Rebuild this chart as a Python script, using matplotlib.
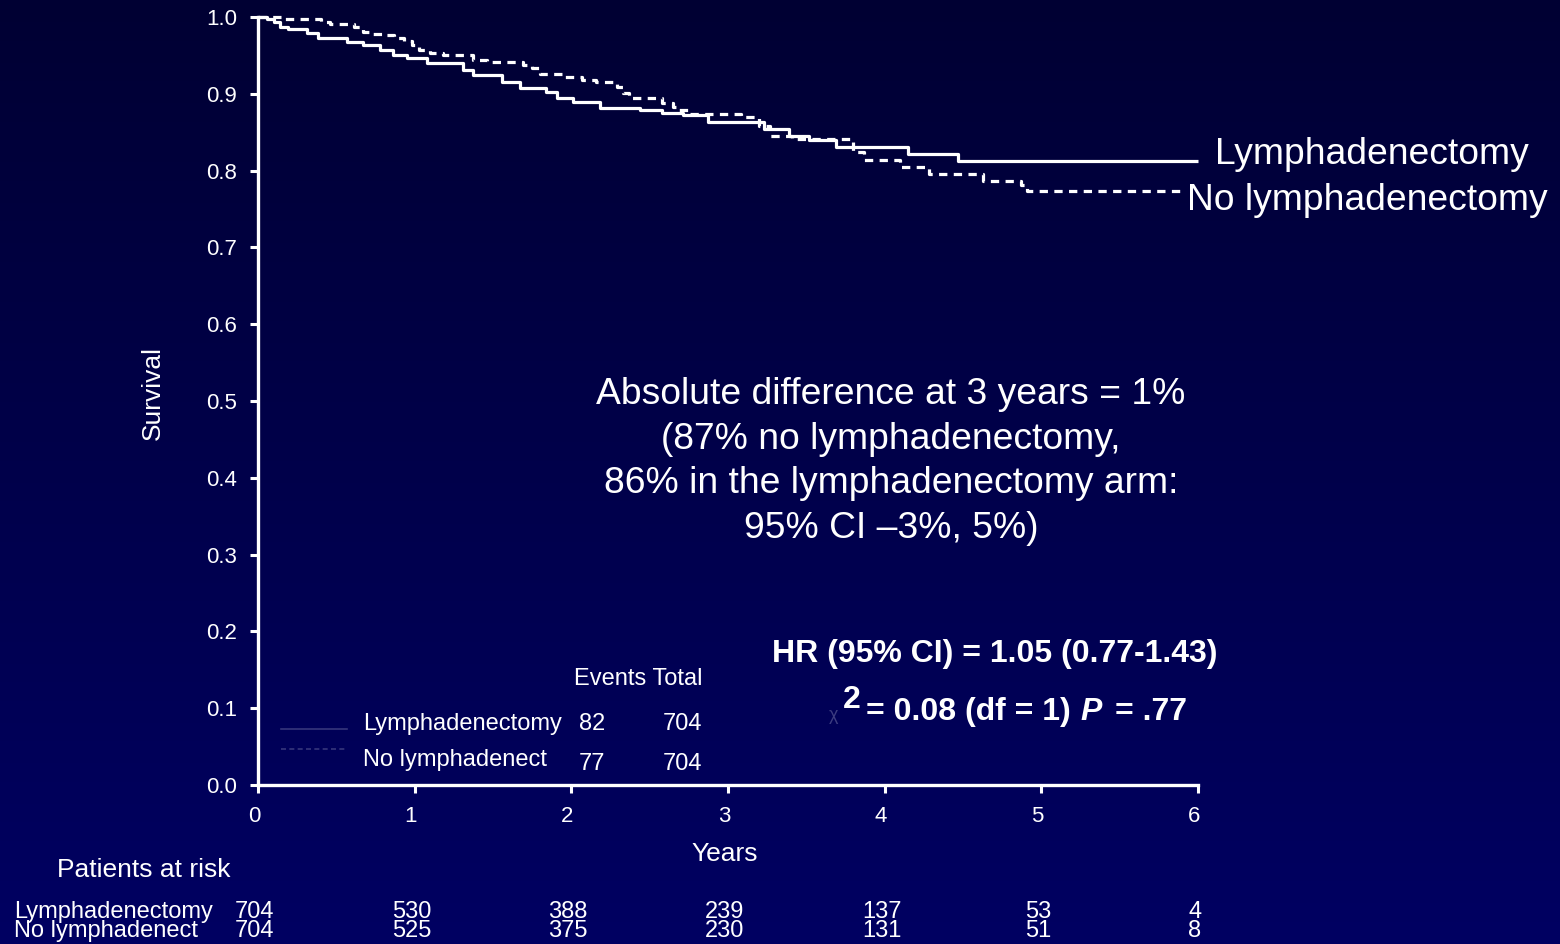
import numpy as np
import matplotlib.pyplot as plt
import matplotlib.transforms as mtransforms
from matplotlib.lines import Line2D

plt.rcParams['font.family'] = ['Liberation Sans', 'DejaVu Sans']

W, H = 1560, 944

## Kaplan-Meier steps (time in years, survival)
lymph_time = [0, 0.06, 0.10, 0.14, 0.19, 0.31, 0.38, 0.57, 0.67, 0.78, 0.86, 0.95,
              1.08, 1.31, 1.37, 1.56, 1.67, 1.84, 1.91, 2.01, 2.18, 2.44, 2.58,
              2.71, 2.87, 3.23, 3.39, 3.52, 3.69, 4.15, 4.47, 6.0]
lymph_surv = [1.0, 0.997, 0.994, 0.987, 0.984, 0.979, 0.973, 0.967, 0.964, 0.957,
              0.950, 0.947, 0.940, 0.931, 0.924, 0.915, 0.907, 0.902, 0.895, 0.889,
              0.882, 0.879, 0.875, 0.872, 0.863, 0.854, 0.845, 0.840, 0.831, 0.822,
              0.813, 0.813]

nolymph_time = [0, 0.16, 0.40, 0.46, 0.61, 0.67, 0.73, 0.80, 0.87, 0.93, 0.98, 1.03,
                1.10, 1.18, 1.37, 1.46, 1.69, 1.75, 1.80, 1.94, 2.07, 2.16, 2.29,
                2.33, 2.37, 2.58, 2.65, 2.69, 2.76, 3.08, 3.20, 3.27, 3.41, 3.80,
                3.87, 4.10, 4.28, 4.63, 4.87, 4.91, 5.90]
nolymph_surv = [1.0, 0.997, 0.994, 0.991, 0.987, 0.980, 0.978, 0.976, 0.973, 0.969,
                0.963, 0.957, 0.953, 0.950, 0.944, 0.941, 0.937, 0.933, 0.926, 0.922,
                0.918, 0.915, 0.909, 0.901, 0.895, 0.888, 0.883, 0.879, 0.874, 0.870,
                0.858, 0.845, 0.841, 0.824, 0.814, 0.805, 0.796, 0.786, 0.781, 0.773,
                0.773]

x_ticks = [0, 1, 2, 3, 4, 5, 6]
y_ticks = [0.0, 0.1, 0.2, 0.3, 0.4, 0.5, 0.6, 0.7, 0.8, 0.9, 1.0]

at_risk_lymph = [704, 530, 388, 239, 137, 53, 4]
at_risk_nolymph = [704, 525, 375, 230, 131, 51, 8]

groups = ['Lymphadenectomy', 'No lymphadenect']
events = [82, 77]
totals = [704, 704]

annotation_lines = ['Absolute difference at 3 years = 1%',
                    '(87% no lymphadenectomy,',
                    '86% in the lymphadenectomy arm:',
                    '95% CI \u20133%, 5%)']


def fx(px):
    return px / W


def fy(py):
    return 1 - py / H


fig = plt.figure(figsize=(W / 100, H / 100), dpi=100)

## gradient background
bg = fig.add_axes([0, 0, 1, 1], zorder=-10)
top = np.array([0x00, 0x00, 0x33]) / 255
bottom = np.array([0x00, 0x00, 0x62]) / 255
grad = np.linspace(0, 1, 256)[:, None, None]
img = top + (bottom - top) * grad
img = np.repeat(img, 2, axis=1)
bg.imshow(img, aspect='auto', extent=[0, 1, 0, 1], origin='upper')
bg.axis('off')

ax = fig.add_axes([fx(258), fy(785), (1198 - 258) / W, (785 - 17) / H])
ax.set_facecolor('none')

ax.step(lymph_time, lymph_surv, where='post', color='white', lw=2.3,
        solid_capstyle='butt', clip_on=False)
ax.step(nolymph_time, nolymph_surv, where='post', color='white', lw=2.3,
        dashes=(2.6, 2.0), clip_on=False)

ax.set_xlim(0, 6)
ax.set_ylim(0, 1.0)
ax.set_xticks(x_ticks)
ax.set_yticks(y_ticks)
ax.set_xticklabels([str(t) for t in x_ticks])
ax.set_yticklabels([f'{t:.1f}' for t in y_ticks])
ax.tick_params(colors='white', labelcolor='white', labelsize=16, direction='out',
               length=6, width=2.2, pad=9)
shift = mtransforms.ScaledTranslation(-4 / 100, 0, fig.dpi_scale_trans)
for lab in ax.get_xticklabels():
    lab.set_transform(lab.get_transform() + shift)
for side in ['top', 'right']:
    ax.spines[side].set_visible(False)
for side in ['left', 'bottom']:
    ax.spines[side].set_color('white')
    ax.spines[side].set_linewidth(2.4)

ax.set_ylabel('Survival', color='white', fontsize=19)
ax.yaxis.set_label_coords(-0.099, 0.51)
ax.set_xlabel('Years', color='white', fontsize=19)
ax.xaxis.set_label_coords(0.497, -0.074)

## curve labels on the right
fig.text(fx(1215), fy(154), 'Lymphadenectomy', color='white', fontsize=26.8,
         ha='left', va='center')
fig.text(fx(1187), fy(201), 'No lymphadenectomy', color='white', fontsize=26.8,
         ha='left', va='center')

## absolute difference annotation
for i, line in enumerate(annotation_lines):
    fig.text(fx(891), fy(394 + 45 * i), line, color='white', fontsize=26.8,
             ha='center', va='center')

## hazard ratio
fig.text(fx(772), fy(654), 'HR (95% CI) = 1.05 (0.77-1.43)', color='white',
         fontsize=23, fontweight='bold', ha='left', va='center')
fig.text(fx(829), fy(716), '\u03c7', color='#3c3c80', fontsize=13,
         ha='left', va='center')
fig.text(fx(843), fy(700), '2', color='white', fontsize=23, fontweight='bold',
         ha='left', va='center')
fig.text(fx(866), fy(712), '= 0.08 (df = 1)', color='white', fontsize=23,
         fontweight='bold', ha='left', va='center')
fig.text(fx(1080), fy(712), 'P', color='white', fontsize=23, fontweight='bold',
         fontstyle='italic', ha='left', va='center')
fig.text(fx(1115), fy(712), '= .77', color='white', fontsize=23,
         fontweight='bold', ha='left', va='center')

## inner legend with events / totals
fig.text(fx(702), fy(679), 'Events Total', color='white', fontsize=17,
         ha='right', va='center')
legend_y = [724, 764]
handle_y = [729, 749]
styles = ['-', (0, (3, 2))]
for i, g in enumerate(groups):
    fig.add_artist(Line2D([fx(281), fx(347)], [fy(handle_y[i])] * 2,
                          color='#35357c', lw=1.2, linestyle=styles[i]))
    fig.text(fx(363), fy(legend_y[i] - 4 * i), g, color='white', fontsize=17,
             ha='left', va='center')
    fig.text(fx(579), fy(legend_y[i]), str(events[i]), color='white', fontsize=17,
             ha='left', va='center')
    fig.text(fx(702), fy(legend_y[i]), str(totals[i]), color='white', fontsize=17,
             ha='right', va='center')

## patients at risk table
fig.text(fx(57), fy(870), 'Patients at risk', color='white', fontsize=19,
         ha='left', va='center')
rows = [at_risk_lymph, at_risk_nolymph]
row_names = ['Lymphadenectomy', 'No lymphadenect']
row_y = [912, 931]
blend = mtransforms.blended_transform_factory(ax.transData, fig.transFigure)
for r, counts in enumerate(rows):
    fig.text(fx(14), fy(row_y[r]), row_names[r], color='white', fontsize=17,
             ha='left', va='center')
    for t, n in zip(x_ticks, counts):
        ax.text(t - 0.02, fy(row_y[r]), str(n), color='white', fontsize=17,
                ha='center', va='center', transform=blend, clip_on=False)

fig.savefig('out.png', dpi=100)
